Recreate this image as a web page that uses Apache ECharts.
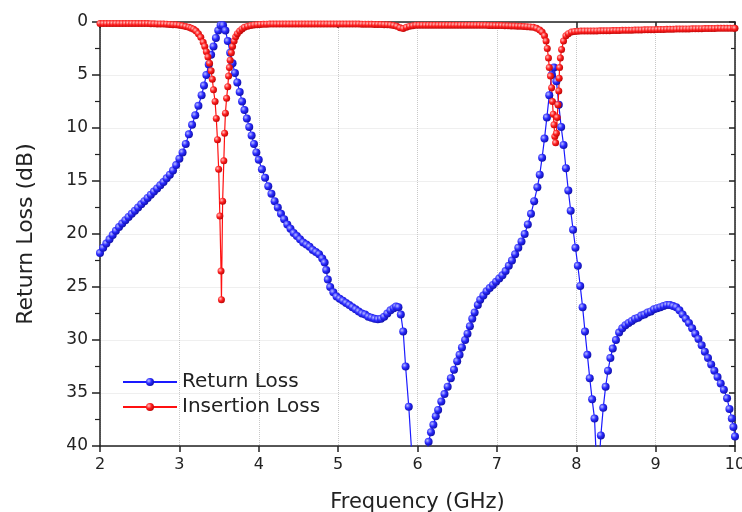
<!DOCTYPE html>
<html>
<head>
<meta charset="utf-8">
<script src="https://cdn.jsdelivr.net/npm/echarts@6/dist/echarts.min.js"></script>
<style>
  html, body { margin: 0; padding: 0; background: #fff; }
  #chart { width: 742px; height: 512px; }
</style>
</head>
<body>
<div id="chart"></div>
<script>
  // Return loss (blue), frequency in GHz / loss in dB
  var rlFreq = [
    2.00,2.04,2.08,2.12,2.16,2.20,2.24,2.28,2.32,2.36,
    2.40,2.44,2.48,2.52,2.56,2.60,2.64,2.68,2.72,2.76,
    2.80,2.84,2.88,2.92,2.96,3.00,3.04,3.08,3.12,3.16,
    3.20,3.24,3.28,3.31,3.34,3.37,3.40,3.43,3.46,3.49,
    3.52,3.55,3.58,3.61,3.64,3.67,3.70,3.73,3.76,3.79,
    3.82,3.85,3.88,3.91,3.94,3.97,4.00,4.04,4.08,4.12,
    4.16,4.20,4.24,4.28,4.32,4.36,4.40,4.44,4.48,4.52,
    4.56,4.60,4.64,4.68,4.72,4.76,4.80,4.83,4.85,4.87,
    4.90,4.94,4.98,5.02,5.06,5.10,5.14,5.18,5.22,5.26,
    5.30,5.34,5.38,5.42,5.46,5.50,5.54,5.58,5.62,5.66,
    5.70,5.73,5.76,5.79,5.82,5.85,5.89,5.93,6.03,6.11,
    6.14,6.17,6.20,6.23,6.26,6.30,6.34,6.38,6.42,6.46,
    6.50,6.53,6.56,6.60,6.63,6.66,6.69,6.72,6.76,6.79,
    6.83,6.87,6.91,6.95,6.99,7.03,7.07,7.11,7.15,7.19,
    7.23,7.27,7.31,7.35,7.39,7.43,7.47,7.51,7.54,7.57,
    7.60,7.63,7.66,7.69,7.72,7.75,7.78,7.81,7.84,7.87,
    7.90,7.93,7.96,7.99,8.02,8.05,8.08,8.11,8.14,8.17,
    8.20,8.23,8.27,8.31,8.34,8.37,8.40,8.43,8.46,8.50,
    8.54,8.58,8.62,8.66,8.70,8.74,8.78,8.82,8.86,8.90,
    8.94,8.98,9.02,9.06,9.10,9.14,9.18,9.22,9.26,9.30,
    9.34,9.38,9.42,9.46,9.50,9.54,9.58,9.62,9.66,9.70,
    9.74,9.78,9.82,9.86,9.90,9.93,9.96,9.98,10.00
  ];
  var rlLoss = [
    21.8,21.3,20.9,20.5,20.1,19.7,19.35,19.0,18.7,18.4,
    18.1,17.8,17.5,17.2,16.9,16.6,16.3,16.0,15.7,15.4,
    15.1,14.75,14.4,14.0,13.5,12.9,12.3,11.5,10.6,9.7,
    8.8,7.9,6.9,6.0,5.0,4.0,3.1,2.3,1.5,0.8,
    0.3,0.3,0.8,1.8,2.9,3.9,4.8,5.7,6.6,7.5,
    8.3,9.1,9.9,10.7,11.5,12.3,13.0,13.9,14.7,15.5,
    16.2,16.9,17.5,18.1,18.6,19.1,19.5,19.9,20.2,20.5,
    20.8,21.0,21.2,21.5,21.7,21.9,22.3,22.7,23.4,24.3,
    25.0,25.5,25.9,26.1,26.3,26.5,26.7,26.9,27.1,27.3,
    27.5,27.6,27.8,27.9,28.0,28.05,28.0,27.8,27.5,27.2,
    27.0,26.85,26.9,27.6,29.2,32.5,36.3,41.0,47.0,41.5,
    39.6,38.7,38.0,37.2,36.6,35.8,35.1,34.4,33.6,32.8,
    32.0,31.4,30.7,30.0,29.4,28.7,28.0,27.4,26.7,26.2,
    25.8,25.4,25.1,24.8,24.5,24.2,23.9,23.5,23.0,22.5,
    21.9,21.3,20.7,20.0,19.1,18.1,16.9,15.6,14.4,12.8,
    11.0,9.0,6.9,5.0,4.3,5.6,7.8,9.9,11.6,13.8,
    15.9,17.8,19.6,21.3,23.0,24.9,26.9,29.2,31.4,33.6,
    35.6,37.4,44.0,39.0,36.4,34.4,32.9,31.7,30.8,30.0,
    29.3,28.9,28.6,28.4,28.2,28.0,27.9,27.7,27.6,27.4,
    27.3,27.1,27.0,26.9,26.8,26.7,26.7,26.8,26.9,27.2,
    27.6,28.0,28.4,28.9,29.4,29.9,30.5,31.1,31.7,32.3,
    32.9,33.5,34.1,34.7,35.5,36.5,37.4,38.2,39.1
  ];

  // Insertion loss (red)
  var ilFreq = [
    2.00,2.04,2.08,2.12,2.16,2.20,2.24,2.28,2.32,2.36,
    2.40,2.44,2.48,2.52,2.56,2.60,2.64,2.68,2.72,2.76,
    2.80,2.84,2.88,2.92,2.96,3.00,3.04,3.08,3.12,3.15,
    3.18,3.21,3.24,3.27,3.30,3.32,3.34,3.36,3.38,3.40,
    3.415,3.43,3.45,3.465,3.48,3.495,3.51,3.525,3.53,3.545,
    3.56,3.57,3.58,3.595,3.61,3.62,3.63,3.64,3.655,3.67,
    3.69,3.71,3.73,3.76,3.79,3.82,3.86,3.90,3.94,3.98,
    4.02,4.06,4.10,4.14,4.18,4.22,4.26,4.30,4.34,4.38,
    4.42,4.46,4.50,4.54,4.58,4.62,4.66,4.70,4.74,4.78,
    4.82,4.86,4.90,4.94,4.98,5.02,5.06,5.10,5.14,5.18,
    5.22,5.26,5.30,5.34,5.38,5.42,5.46,5.50,5.54,5.58,
    5.62,5.66,5.70,5.74,5.78,5.82,5.86,5.90,5.94,5.98,
    6.02,6.06,6.10,6.14,6.18,6.22,6.26,6.30,6.34,6.38,
    6.42,6.46,6.50,6.54,6.58,6.62,6.66,6.70,6.74,6.78,
    6.82,6.86,6.90,6.94,6.98,7.02,7.06,7.10,7.14,7.18,
    7.22,7.26,7.30,7.34,7.38,7.42,7.46,7.50,7.54,7.57,
    7.60,7.62,7.635,7.65,7.66,7.675,7.69,7.70,7.71,7.72,
    7.73,7.74,7.75,7.76,7.77,7.78,7.785,7.79,7.80,7.815,
    7.84,7.87,7.90,7.94,7.98,8.02,8.06,8.10,8.14,8.18,
    8.22,8.26,8.30,8.34,8.38,8.42,8.46,8.50,8.54,8.58,
    8.62,8.66,8.70,8.74,8.78,8.82,8.86,8.90,8.94,8.98,
    9.02,9.06,9.10,9.14,9.18,9.22,9.26,9.30,9.34,9.38,
    9.42,9.46,9.50,9.54,9.58,9.62,9.66,9.70,9.74,9.78,
    9.82,9.86,9.90,9.94,9.98,10.00
  ];
  var ilLoss = [
    0.15,0.15,0.15,0.15,0.15,0.15,0.15,0.15,0.15,0.15,
    0.15,0.15,0.15,0.15,0.15,0.15,0.16,0.17,0.18,0.19,
    0.2,0.21,0.23,0.25,0.27,0.3,0.35,0.42,0.5,0.58,
    0.68,0.85,1.1,1.45,1.9,2.3,2.8,3.3,3.9,4.6,
    5.4,6.4,7.5,9.1,11.1,13.9,18.3,23.5,26.2,16.9,
    13.1,10.5,8.6,7.2,6.1,5.1,4.3,3.6,2.9,2.3,
    1.8,1.4,1.1,0.85,0.65,0.5,0.4,0.33,0.28,0.25,
    0.23,0.22,0.21,0.2,0.2,0.2,0.2,0.2,0.2,0.2,
    0.2,0.2,0.2,0.2,0.2,0.2,0.2,0.2,0.2,0.2,
    0.2,0.2,0.2,0.2,0.2,0.2,0.2,0.2,0.2,0.2,
    0.2,0.2,0.21,0.21,0.22,0.22,0.23,0.23,0.24,0.25,
    0.26,0.28,0.32,0.4,0.55,0.62,0.5,0.4,0.35,0.3,
    0.3,0.3,0.3,0.3,0.3,0.3,0.3,0.3,0.3,0.3,
    0.3,0.3,0.3,0.3,0.3,0.3,0.3,0.3,0.3,0.3,
    0.31,0.31,0.32,0.32,0.33,0.33,0.34,0.35,0.36,0.37,
    0.38,0.39,0.4,0.42,0.44,0.46,0.5,0.6,0.75,0.95,
    1.3,1.8,2.5,3.4,4.3,5.1,6.2,7.5,8.7,9.7,
    10.8,11.4,10.5,9.0,7.8,6.5,5.3,4.3,3.4,2.6,
    1.8,1.3,1.1,0.95,0.9,0.88,0.86,0.85,0.85,0.85,
    0.84,0.84,0.83,0.83,0.82,0.82,0.81,0.8,0.8,0.79,
    0.78,0.78,0.77,0.76,0.75,0.75,0.74,0.73,0.72,0.72,
    0.71,0.7,0.7,0.69,0.68,0.68,0.67,0.66,0.66,0.65,
    0.65,0.64,0.64,0.63,0.63,0.62,0.62,0.61,0.61,0.6,
    0.6,0.6,0.6,0.6,0.6,0.6
  ];

  var seriesNames = ['Return Loss', 'Insertion Loss'];
  var xTicks = { min: 2, max: 10, interval: 1 };
  var yTicks = { min: 0, max: 40, interval: 5 };

  function pairs(xs, ys) {
    return xs.map(function (x, i) { return [x, ys[i]]; });
  }

  // shaded ball markers, like the Origin plot
  function ball(light, mid, dark) {
    return {
      type: 'radial', x: 0.35, y: 0.35, r: 0.75,
      colorStops: [
        { offset: 0, color: light },
        { offset: 0.45, color: mid },
        { offset: 1, color: dark }
      ]
    };
  }

  var font = '"DejaVu Sans", Verdana, sans-serif';
  var chart = echarts.init(document.getElementById('chart'), null, { renderer: 'canvas' });

  chart.setOption({
    animation: false,
    backgroundColor: '#fff',
    grid: { left: 100, right: 7, top: 22, bottom: 66, outerBoundsMode: 'none' },
    legend: {
      left: 117, top: 367, orient: 'vertical',
      itemWidth: 54, itemHeight: 10, itemGap: 5,
      textStyle: { fontFamily: font, fontSize: 20, color: '#222' },
      data: seriesNames
    },
    xAxis: [{
      type: 'value',
      min: xTicks.min, max: xTicks.max, interval: xTicks.interval,
      name: 'Frequency (GHz)', nameLocation: 'middle', nameGap: 46,
      nameTextStyle: { fontFamily: font, fontSize: 21, color: '#222' },
      axisLine: { show: true, onZero: false, lineStyle: { color: '#222', width: 1.5 } },
      axisTick: { show: true, length: 6, lineStyle: { color: '#222', width: 1.5 } },
      axisLabel: { fontFamily: font, fontSize: 16, color: '#222', margin: 11 },
      splitLine: { show: true, lineStyle: { color: '#c8c8c8', type: 'dotted', width: 1 } }
    }, {
      type: 'value', position: 'top',
      min: xTicks.min, max: xTicks.max, interval: xTicks.interval,
      axisLine: { show: true, onZero: false, lineStyle: { color: '#222', width: 1.5 } },
      axisTick: { show: true, inside: true, length: 6, lineStyle: { color: '#222', width: 1.5 } },
      axisLabel: { show: false },
      splitLine: { show: false }
    }],
    yAxis: [{
      type: 'value', inverse: true,
      min: yTicks.min, max: yTicks.max, interval: yTicks.interval,
      name: 'Return Loss (dB)', nameLocation: 'middle', nameGap: 63, nameRotate: 90,
      nameTextStyle: { fontFamily: font, fontSize: 22, color: '#222' },
      axisLine: { show: true, onZero: false, lineStyle: { color: '#222', width: 1.5 } },
      axisTick: { show: true, length: 8, lineStyle: { color: '#222', width: 1.5 } },
      minorTick: { show: true, splitNumber: 2, length: 5, lineStyle: { color: '#222', width: 1.2 } },
      axisLabel: { fontFamily: font, fontSize: 17, color: '#222', margin: 12 },
      splitLine: { show: true, lineStyle: { color: '#efefef', width: 1 } }
    }, {
      type: 'value', inverse: true, position: 'right',
      min: yTicks.min, max: yTicks.max, interval: yTicks.interval,
      axisLine: { show: true, onZero: false, lineStyle: { color: '#222', width: 1.5 } },
      axisTick: { show: true, inside: true, length: 6, lineStyle: { color: '#222', width: 1.5 } },
      minorTick: { show: true, splitNumber: 2, length: 4, lineStyle: { color: '#222', width: 1.2 } },
      axisLabel: { show: false },
      splitLine: { show: false }
    }],
    series: [{
      name: seriesNames[0],
      type: 'line',
      data: pairs(rlFreq, rlLoss),
      showAllSymbol: true,
      symbol: 'circle',
      symbolSize: 8,
      clip: true,
      lineStyle: { color: '#1a1aff', width: 1.2 },
      itemStyle: { color: ball('#b8bcff', '#2b2bff', '#0a0a9a'), borderWidth: 0 }
    }, {
      name: seriesNames[1],
      type: 'line',
      data: pairs(ilFreq, ilLoss),
      showAllSymbol: true,
      symbol: 'circle',
      symbolSize: 7,
      clip: true,
      lineStyle: { color: '#ff1010', width: 1.2 },
      itemStyle: { color: ball('#ffc0c0', '#ff2020', '#b00000'), borderWidth: 0 }
    }]
  });
</script>
</body>
</html>
